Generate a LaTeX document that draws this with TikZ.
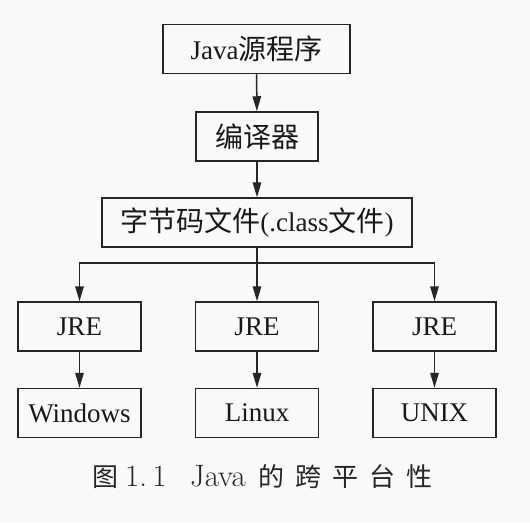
\documentclass[tikz,border=0pt]{standalone}
\usepackage{fontspec}
\setmainfont{Liberation Serif}
\newfontfamily\cjk{Noto Sans CJK SC}
\newfontfamily\lmfont{Latin Modern Roman}
\usetikzlibrary{arrows.meta}
\tikzset{
  box/.style={draw=black!85, line width=1.5pt, inner sep=0pt, minimum height=49pt,
    text=black!90, font=\fontsize{27}{30}\selectfont},
  arr/.style={draw=black!85, line width=1.5pt, -{Triangle[length=15pt,width=8.5pt]}},
  ln/.style={draw=black!85, line width=1.5pt}
}
\newcommand{\cj}[1]{{\cjk\fontsize{28}{30}\selectfont #1}}
\begin{document}
\begin{tikzpicture}[x=1pt,y=-1pt]
\fill[gray!5] (0,0) rectangle (530,522);
\useasboundingbox (0,0) rectangle (530,522);
\node[box, minimum width=187pt] (src) at (256.5,49) {Java\cj{源程序}};
\node[box, minimum width=122pt] (cmp) at (257,136.5) {\cj{编译器}};
\node[box, minimum width=310pt] (bc) at (257,222.5) {\cj{字节码文件}(.class\cj{文件})};
\node[box, minimum width=123pt] (jl) at (79.5,326.5) {JRE};
\node[box, minimum width=123pt] (jm) at (257,326.5) {JRE};
\node[box, minimum width=123pt] (jr) at (434.5,326.5) {JRE};
\node[box, minimum width=123pt] (win) at (79.5,413) {Windows};
\node[box, minimum width=123pt] (lin) at (257,413) {Linux};
\node[box, minimum width=123pt] (unx) at (434.5,413) {UNIX};
\coordinate (split) at (257,263);
\draw[arr] (src) -- (cmp);
\draw[arr] (cmp) -- (bc);
\draw[ln] (bc) -- (split);
\draw[arr] (split) -| (jl);
\draw[arr] (split) -- (jm);
\draw[arr] (split) -| (jr);
\draw[arr] (jl) -- (win);
\draw[arr] (jm) -- (lin);
\draw[arr] (jr) -- (unx);
\node[anchor=base west, inner sep=0pt, text=black!85] (cap) at (92,486)
  {\cjk\fontsize{26}{28}\selectfont
   \makebox[33pt][l]{图}\makebox[65pt][l]{\lmfont\fontsize{31}{32}\selectfont 1.\,1}\makebox[68pt][l]{\lmfont\fontsize{31}{32}\selectfont Java}\makebox[37pt][l]{的}\makebox[37pt][l]{跨}\makebox[37pt][l]{平}\makebox[37pt][l]{台}\makebox[26pt][l]{性}};
\end{tikzpicture}
\end{document}
